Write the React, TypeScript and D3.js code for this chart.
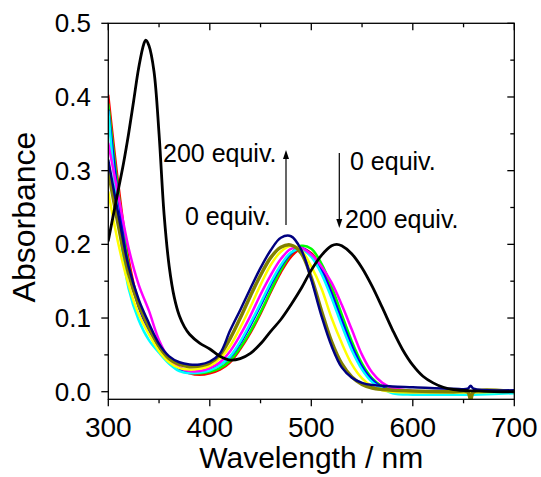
import React from "react";
import * as d3 from "d3";

const wl = [300,310,320,330,340,350,360,370,380,390,400,410,420,430,440,450,460,470,480,490,500,510,520,530,540,550,560,570,580,600,640,654,657,660,700];

const redAbs = [.402,.28,.18,.12,.085,.06,.042,.031,.025,.023,.025,.03,.04,.058,.08,.106,.135,.162,.183,.194,.188,.168,.137,.1,.065,.036,.017,.007,.002,-.001,-.002,-.002,-.002,-.002,0];
const greenAbs = [.39,.27,.172,.118,.084,.06,.042,.031,.026,.025,.027,.032,.042,.06,.082,.108,.137,.165,.187,.198,.194,.174,.143,.105,.068,.038,.018,.007,.002,0,-.001,-.001,-.001,-.001,0];
const blueAbs = [.382,.26,.165,.115,.083,.06,.042,.031,.027,.027,.03,.036,.047,.066,.09,.117,.145,.17,.188,.195,.186,.165,.133,.097,.062,.034,.016,.006,.001,-.002,-.002,-.002,-.002,-.002,0];
const cyanAbs = [.38,.235,.14,.097,.07,.053,.038,.028,.025,.026,.029,.036,.048,.068,.093,.12,.148,.172,.189,.193,.183,.16,.127,.09,.056,.03,.013,.004,-.002,-.004,-.004,-.004,-.004,-.004,-.002];
const magentaAbs = [.337,.265,.195,.145,.11,.07,.045,.033,.028,.028,.032,.04,.055,.077,.103,.132,.158,.18,.194,.195,.186,.17,.148,.118,.084,.05,.026,.012,.005,.001,0,0,0,0,0];
const yellowAbs = [.271,.2,.145,.105,.078,.055,.04,.032,.03,.031,.035,.045,.062,.087,.115,.145,.172,.19,.198,.192,.17,.14,.1,.066,.037,.018,.007,.002,0,-.001,-.001,-.001,-.001,-.001,0];
const oliveAbs = [.30,.225,.16,.118,.088,.062,.045,.037,.034,.035,.039,.05,.072,.1,.13,.158,.182,.196,.199,.188,.155,.11,.068,.038,.02,.01,.005,.003,.002,.001,0,0,-.011,0,0];
const navyAbs = [.314,.24,.17,.125,.093,.065,.048,.04,.037,.037,.041,.052,.083,.111,.14,.168,.192,.209,.211,.193,.152,.103,.062,.033,.019,.012,.009,.008,.007,.006,.004,.004,.008,.004,.002];

const blackWl = [300,305,310,315,320,325,330,335,337,340,345,350,355,360,365,370,375,380,390,400,410,420,430,440,450,460,470,480,490,500,510,520,525,530,540,550,560,570,580,590,600,610,620,630,640,660,680,700];
const blackAbs = [.205,.24,.275,.31,.35,.395,.44,.472,.477,.47,.435,.35,.24,.17,.128,.103,.088,.078,.066,.058,.048,.043,.045,.052,.065,.082,.098,.118,.14,.165,.185,.198,.2,.198,.187,.168,.143,.114,.084,.057,.036,.021,.012,.006,.003,.001,0,0];

const series = [
  { name: "red", color: "#ff0000", values: redAbs, width: 2.5 },
  { name: "green", color: "#00ff00", values: greenAbs, width: 2.5 },
  { name: "blue", color: "#0000ff", values: blueAbs, width: 2.5 },
  { name: "cyan", color: "#00ffff", values: cyanAbs, width: 2.5 },
  { name: "magenta", color: "#ff00ff", values: magentaAbs, width: 2.5 },
  { name: "yellow", color: "#ffff00", values: yellowAbs, width: 2.5 },
  { name: "olive", color: "#808000", values: oliveAbs, width: 3.5 },
  { name: "navy", color: "#000080", values: navyAbs, width: 2.5 },
];

const xMajor = [300, 400, 500, 600, 700];
const xMinor = [350, 450, 550, 650];
const yMajor = [0, 0.1, 0.2, 0.3, 0.4, 0.5];
const yMinor = [0.05, 0.15, 0.25, 0.35, 0.45];

const FONT = "'Liberation Sans', Arial, sans-serif";

export default function App() {
  const left = 108.3, right = 514.3, top = 23.3, bottom = 399.3;
  const x = d3.scaleLinear().domain([300, 700]).range([left, right]);
  const y = d3.scaleLinear().domain([-0.0103, 0.5]).range([bottom, top]);

  const line = d3.line<[number, number]>()
    .x((d) => x(d[0]))
    .y((d) => y(d[1]))
    .curve(d3.curveCatmullRom.alpha(0.5));

  const black = line(blackWl.map((w, i) => [w, blackAbs[i]]));

  const arrowHead = (cx: number, tipY: number, dir: number) => {
    const h = 9, w = 3;
    return `M${cx},${tipY} L${cx - w},${tipY - dir * h} L${cx + w},${tipY - dir * h} Z`;
  };

  return (
    <svg width={541} height={477} style={{ position: "absolute", left: 0, top: 0, background: "#fff" }} fontFamily={FONT}>
      <defs>
        <clipPath id="plotclip">
          <rect x={left} y={top} width={right - left} height={bottom - top} />
        </clipPath>
      </defs>
      <g clipPath="url(#plotclip)" fill="none" strokeLinejoin="round" strokeLinecap="round">
        {series.map((s) => (
          <path key={s.name} d={line(wl.map((w, i) => [w, s.values[i]])) || ""} stroke={s.color} strokeWidth={s.width} />
        ))}
        <path d={black || ""} stroke="#000" strokeWidth={2.8} />
      </g>

      <rect x={left} y={top} width={right - left} height={bottom - top} fill="none" stroke="#000" strokeWidth={1.3} />

      {xMajor.map((t) => (
        <line key={"bx" + t} x1={x(t)} x2={x(t)} y1={bottom} y2={bottom + 7} stroke="#000" strokeWidth={1.3} />
      ))}
      {xMinor.map((t) => (
        <line key={"bxm" + t} x1={x(t)} x2={x(t)} y1={bottom} y2={bottom + 4} stroke="#000" strokeWidth={1.3} />
      ))}
      {xMajor.map((t) => (
        <line key={"tx" + t} x1={x(t)} x2={x(t)} y1={top} y2={top + 7} stroke="#000" strokeWidth={1.3} />
      ))}
      {xMinor.map((t) => (
        <line key={"txm" + t} x1={x(t)} x2={x(t)} y1={top} y2={top + 4} stroke="#000" strokeWidth={1.3} />
      ))}
      {yMajor.map((t) => (
        <line key={"ly" + t} x1={left - 7} x2={left} y1={y(t)} y2={y(t)} stroke="#000" strokeWidth={1.3} />
      ))}
      {yMinor.map((t) => (
        <line key={"lym" + t} x1={left - 4} x2={left} y1={y(t)} y2={y(t)} stroke="#000" strokeWidth={1.3} />
      ))}
      {yMajor.map((t) => (
        <line key={"ry" + t} x1={right - 7} x2={right} y1={y(t)} y2={y(t)} stroke="#000" strokeWidth={1.3} />
      ))}
      {yMinor.map((t) => (
        <line key={"rym" + t} x1={right - 4} x2={right} y1={y(t)} y2={y(t)} stroke="#000" strokeWidth={1.3} />
      ))}

      {xMajor.map((t) => (
        <text key={"xl" + t} x={x(t)} y={437} textAnchor="middle" fontSize={28} fill="#000">
          {d3.format("d")(t)}
        </text>
      ))}
      {yMajor.map((t) => (
        <text key={"yl" + t} x={91} y={y(t) + 9} textAnchor="end" fontSize={26} fill="#000">
          {d3.format(".1f")(t)}
        </text>
      ))}

      <text x={(left + right) / 2} y={468} textAnchor="middle" fontSize={30} fill="#000">
        Wavelength / nm
      </text>
      <text transform={`translate(35, 217) rotate(-90)`} textAnchor="middle" fontSize={32} fill="#000">
        Absorbance
      </text>

      <text x={163} y={162} fontSize={25} fill="#000">200 equiv.</text>
      <text x={185} y={225} fontSize={25} fill="#000">0 equiv.</text>
      <text x={350} y={170} fontSize={25} fill="#000">0 equiv.</text>
      <text x={345} y={228} fontSize={25} fill="#000">200 equiv.</text>

      <line x1={286} x2={286} y1={225} y2={155} stroke="#000" strokeWidth={1.2} />
      <path d={arrowHead(286, 150, -1)} fill="#000" />
      <line x1={339.3} x2={339.3} y1={153} y2={222} stroke="#000" strokeWidth={1.2} />
      <path d={arrowHead(339.3, 228, 1)} fill="#000" />
    </svg>
  );
}
